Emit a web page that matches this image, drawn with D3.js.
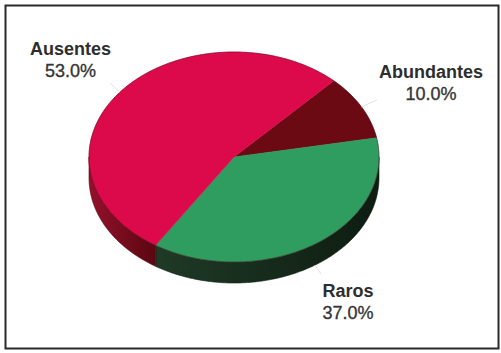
<!DOCTYPE html>
<html>
<head>
<meta charset="utf-8">
<script src="https://cdn.jsdelivr.net/npm/d3@7"></script>
<style>
  html, body { margin: 0; padding: 0; background: #ffffff; }
  svg { display: block; }
  text { font-family: "Liberation Sans", Arial, Helvetica, sans-serif; }
</style>
</head>
<body>
<div id="chart"></div>
<script>
// Abundance classes and their share (%)
const categories = ["Abundantes", "Raros", "Ausentes"];
const values = [10.0, 37.0, 53.0];
const valueLabels = ["10.0%", "37.0%", "53.0%"];

// Face and wall colours for each class
const topColors = ["#6c0a14", "#2f9d5f", "#dc0a4b"];
const sideLight = ["#5a0810", "#1f3a26", "#94112a"];
const sideDark  = ["#3c050a", "#0e1c11", "#5a0712"];

const W = 501, H = 353;
const cx = 234, cy = 157, rx = 145, ry = 105, depth = 21;
const start = 43.5 * Math.PI / 180;

// label anchor positions (centre x, first baseline y)
const labelPos = [[431, 78], [348, 297], [70.5, 55]];
const leaderEnd = [[377, 100], [321, 274], [110, 83]];

const svg = d3.select("#chart").append("svg")
  .attr("width", W).attr("height", H);

svg.append("rect").attr("width", W).attr("height", H).attr("fill", "#ffffff");

const defs = svg.append("defs");
categories.forEach((c, i) => {
  const g = defs.append("linearGradient").attr("id", "side" + i)
    .attr("x1", "0%").attr("x2", "100%").attr("y1", "0%").attr("y2", "0%");
  g.append("stop").attr("offset", "0%").attr("stop-color", sideLight[i]);
  g.append("stop").attr("offset", "100%").attr("stop-color", sideDark[i]);
});

const pie = d3.pie().sort(null).startAngle(start).endAngle(start + 2 * Math.PI);
const arcs = pie(values);

// point on the tilted ellipse for a d3 angle (clockwise from 12 o'clock)
const proj = (a, dy = 0) => [cx + rx * Math.sin(a), cy - ry * Math.cos(a) + dy];
const sample = (a0, a1) => {
  const n = Math.max(2, Math.ceil(Math.abs(a1 - a0) / 0.01));
  return d3.range(n + 1).map(k => a0 + (a1 - a0) * k / n);
};
const line = d3.line();

// side walls: only the front half of the rim is visible
const front = [[Math.PI / 2, 3 * Math.PI / 2], [5 * Math.PI / 2, 7 * Math.PI / 2]];
const sides = svg.append("g");
arcs.forEach((d, i) => {
  front.forEach(([f0, f1]) => {
    const a0 = Math.max(d.startAngle, f0), a1 = Math.min(d.endAngle, f1);
    if (a1 <= a0) return;
    const upper = sample(a0, a1).map(a => proj(a));
    const lower = sample(a1, a0).map(a => proj(a, depth));
    sides.append("path")
      .attr("d", line(upper.concat(lower)) + "Z")
      .attr("fill", `url(#side${i})`)
      .attr("stroke", sideDark[i]).attr("stroke-width", 0.6);
  });
});

// top faces
const tops = svg.append("g");
arcs.forEach((d, i) => {
  const pts = [[cx, cy]].concat(sample(d.startAngle, d.endAngle).map(a => proj(a)));
  tops.append("path")
    .attr("d", line(pts) + "Z")
    .attr("fill", topColors[i])
    .attr("stroke", topColors[i]).attr("stroke-width", 0.5);
});

// faint outline of the rim
tops.append("path")
  .attr("d", line(sample(0, 2 * Math.PI).map(a => proj(a))) + "Z")
  .attr("fill", "none").attr("stroke", "rgba(70,0,15,0.45)").attr("stroke-width", 1);

// leader lines and labels
const labels = svg.append("g");
arcs.forEach((d, i) => {
  const mid = (d.startAngle + d.endAngle) / 2;
  const inFront = Math.cos(mid) < 0;
  const p = proj(mid, inFront ? depth : 0);
  labels.append("line")
    .attr("x1", p[0]).attr("y1", p[1])
    .attr("x2", leaderEnd[i][0]).attr("y2", leaderEnd[i][1])
    .attr("stroke", "#e2e2e2").attr("stroke-width", 1);

  const t = labels.append("text")
    .attr("x", labelPos[i][0]).attr("y", labelPos[i][1])
    .attr("text-anchor", "middle").attr("font-size", 18).attr("fill", "#2e2e2e");
  t.append("tspan").attr("font-weight", "bold").text(categories[i]);
  t.append("tspan").attr("x", labelPos[i][0]).attr("dy", 21.5)
    .attr("fill", "#353535").attr("stroke", "#353535").attr("stroke-width", 0.35)
    .text(valueLabels[i]);
});

// frame
svg.append("rect")
  .attr("x", 5.5).attr("y", 5.5).attr("width", 493).attr("height", 343)
  .attr("fill", "none").attr("stroke", "#2a2a2a").attr("stroke-width", 2);
</script>
</body>
</html>
